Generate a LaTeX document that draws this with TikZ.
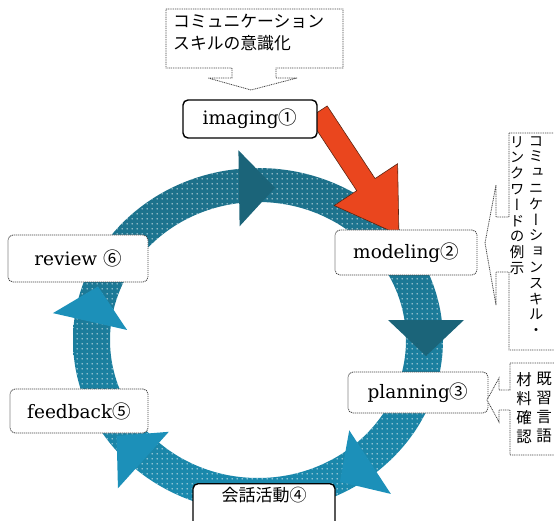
\documentclass[tikz,border=0pt]{standalone}
\usepackage{fontspec}
\setmainfont{DejaVu Serif}
\newfontfamily\jpfont{Noto Sans CJK JP}
\newfontfamily\jpvert[RawFeature=+vert]{Noto Sans CJK JP}
\usetikzlibrary{patterns.meta}

\definecolor{ringtop}{HTML}{1D6F88}
\definecolor{ringbottom}{HTML}{1A8BB0}
\definecolor{headdark}{HTML}{1B6479}
\definecolor{headlight}{HTML}{1C90B9}
\definecolor{arrowred}{HTML}{EA461E}
\definecolor{arrowedge}{HTML}{5A2412}
\definecolor{noteline}{HTML}{444444}

% sparse white dots laid over the cycle band
\tikzdeclarepattern{
  name=whitedots,
  type=uncolored,
  bottom left={(0pt,0pt)},
  top right={(5pt,5pt)},
  tile size={(5pt,5pt)},
  code={\fill (2.5pt,2.5pt) circle [radius=0.8pt];}
}

\newcommand\circnum[1]{{\jpfont #1}}

\tikzset{
  stagebox/.style={fill=white, draw=noteline, line width=0.8pt,
    dash pattern=on 1.2pt off 0.8pt, rounded corners=5pt, inner sep=0pt,
    font=\fontsize{18.5}{21}\selectfont},
  keybox/.style={fill=white, draw=black, line width=1.4pt,
    rounded corners=5pt, inner sep=0pt, font=\fontsize{18.5}{21}\selectfont},
  noteoutline/.style={draw=noteline, line width=0.8pt,
    dash pattern=on 1pt off 0.8pt, fill=white},
  bigarrow/.style={fill=arrowred, draw=arrowedge, line width=0.6pt},
  vtext/.style={inner sep=0pt, align=center, anchor=north,
    font=\jpvert\fontsize{14.5}{15.8}\selectfont},
}

\begin{document}
\begin{tikzpicture}[x=1pt, y=-1pt]
\useasboundingbox (0,0) rectangle (554,521);
\clip (0,0) rectangle (554,521);

% the cycle band
\shade[top color=ringtop, bottom color=ringbottom, even odd rule]
  (258,340) ellipse [x radius=185pt, y radius=172pt]
  (258,340) ellipse [x radius=148pt, y radius=138pt];
\fill[pattern=whitedots, pattern color=white, even odd rule]
  (258,340) ellipse [x radius=185pt, y radius=172pt]
  (258,340) ellipse [x radius=148pt, y radius=138pt];

% arrowheads along the band, clockwise
\foreach \px/\py/\ang/\col in {257/188/0.9/headdark, 426/338/-90/headdark,
    355/472/-146.8/headlight, 130/448/138/headlight, 94/304/77.2/headlight}
  \fill[\col, shift={(\px,\py)}, rotate=\ang] (-18,-38) -- (18,0) -- (-18,38) -- cycle;

% red arrow from imaging to modeling
\begin{scope}[shift={(318,112)}, rotate=-56.6]
  \path[bigarrow] (0,-11) -- (87,-11) -- (87,-38) -- (147,0) -- (87,38)
    -- (87,11) -- (0,11) -- cycle;
\end{scope}

% stage boxes
\node[keybox, minimum width=134pt, minimum height=38pt] (imaging) at (250,119)
  {imaging\circnum{①}};
\node[stagebox, minimum width=142pt, minimum height=45pt] (modeling) at (406,252.5)
  {modeling\circnum{②}};
\node[stagebox, minimum width=140pt, minimum height=41pt] (planning) at (418,392.5)
  {planning\circnum{③}};
\node[keybox, anchor=north, minimum width=142pt, text height=13pt, text depth=24pt,
  inner ysep=5pt, font=\jpfont\fontsize{17}{20}\selectfont] (talk) at (264,483)
  {会話活動④};
\node[stagebox, minimum width=138pt, minimum height=44pt] (feedback) at (79,411)
  {feedback\circnum{⑤}};
\node[stagebox, minimum width=140pt, minimum height=47pt] (review) at (78,258.5)
  {review \circnum{⑥}};

% callout above imaging
\path[noteoutline] (166,9) -- (343,9) -- (343,68) -- (276,68) -- (276,78)
  -- (297,78) -- (251,90) -- (208,78) -- (232,78) -- (232,68) -- (166,68) -- cycle;
\node[anchor=north west, align=left, inner sep=0pt,
  font=\jpfont\fontsize{16.8}{22}\selectfont] (awareness) at (173,14)
  {コミュニケーション\\スキルの意識化};

% callout beside modeling
\path[noteoutline] (509,133) -- (560,133) -- (560,350) -- (509,350) -- (509,272)
  -- (496,272) -- (496,305) -- (485,243) -- (496,185) -- (496,217) -- (509,217) -- cycle;
\node[vtext] (skillcol) at (536,136) {コ\\ミ\\ュ\\ニ\\ケ\\ー\\シ\\ョ\\ン\\ス\\キ\\ル\\・};
\node[vtext] (linkcol) at (517,136) {リ\\ン\\ク\\ワ\\ー\\ド\\の\\例\\示};

% callout beside planning
\path[noteoutline] (510,363) -- (560,363) -- (560,455) -- (510,455) -- (510,410)
  -- (499,410) -- (499,422) -- (487,400) -- (499,378) -- (499,390) -- (510,390) -- cycle;
\node[vtext, font=\jpvert\fontsize{15.5}{19}\selectfont] (knowncol) at (544,372)
  {既\\習\\言\\語};
\node[vtext, font=\jpvert\fontsize{15.5}{19}\selectfont] (checkcol) at (524,372)
  {材\\料\\確\\認};
\end{tikzpicture}
\end{document}
